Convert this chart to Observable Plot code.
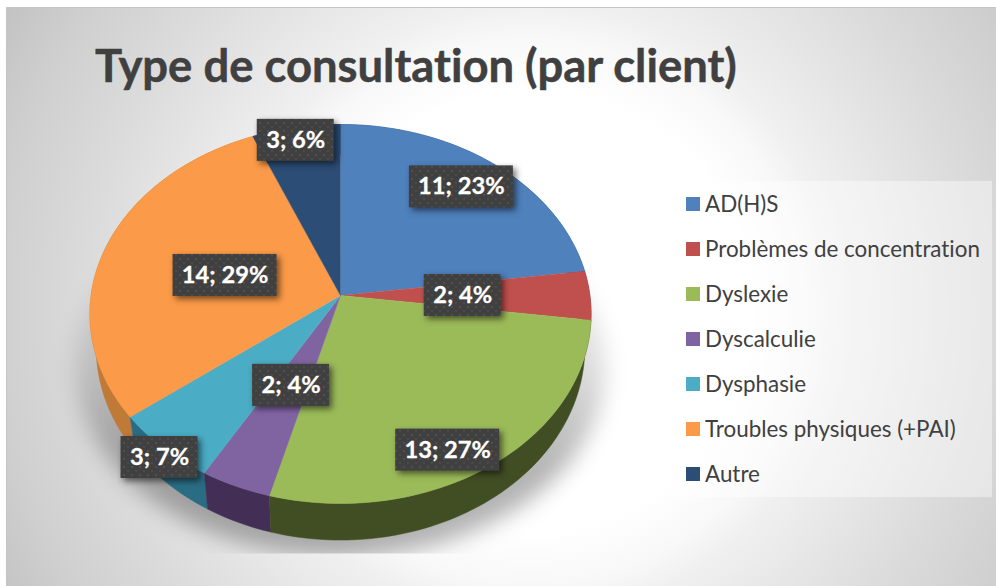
<!DOCTYPE html>
<html lang="fr">
<head>
<meta charset="utf-8">
<title>Type de consultation (par client)</title>
<script src="https://cdn.jsdelivr.net/npm/d3@7"></script>
<script src="https://cdn.jsdelivr.net/npm/@observablehq/plot@0.6"></script>
<style>
  html, body { margin: 0; padding: 0; background: #fff; }
  #chart { position: relative; width: 996px; height: 586px; overflow: hidden; font-family: Lato, sans-serif; font-variant-ligatures: none; }
  #card { position: absolute; left: 6px; top: 7px; right: 0; bottom: 0; box-sizing: border-box;
    border-top: 1px solid #c4c4c4; border-left: 1px solid #c4c4c4;
    background: radial-gradient(circle 610px at 524px 303px, #ffffff 0%, #ffffff 36%, #f8f8f8 45%, #f0f0f0 50%, #dcdcdc 72%, #cfcfcf 88%, #c2c2c2 100%); }
  #title { position: absolute; left: 95px; top: 35px; margin: 0; font-size: 45.4px; line-height: 60px; font-weight: 700; color: #404040; white-space: nowrap; -webkit-text-stroke: 0.5px #404040; }
  #legend { position: absolute; left: 673px; top: 181px; width: 319px; height: 316px; background: rgba(255,255,255,.42); }
  .row { position: absolute; left: 13px; height: 30px; display: flex; align-items: center; font-size: 22.4px; color: #404040; white-space: nowrap; }
  .swatch { width: 14px; height: 14px; margin-right: 5px; flex: none; }
  #chart svg { position: absolute; left: 0; top: 0; }
  #chart svg text { font-variant-ligatures: none; }
</style>
</head>
<body>
<div id="chart">
  <div id="card"></div>
  <h1 id="title">Type de consultation (par client)</h1>
  <div id="legend"></div>
</div>
<script>
const categories = ["AD(H)S", "Problèmes de concentration", "Dyslexie", "Dyscalculie", "Dysphasie", "Troubles physiques (+PAI)", "Autre"];
const counts = [11, 2, 13, 2, 3, 14, 3];
const percents = [23, 4, 27, 4, 7, 29, 6];
const topColors = ["#4f81bd", "#c0504d", "#9bbb59", "#8064a2", "#4bacc6", "#fb9a48", "#2c4d75"];
const sideColors = ["#2f4d71", "#733030", "#414e24", "#432f55", "#2a6c84", "#c07a38", "#1a2e46"];
const labelRadius = [0.80, 0.49, 0.86, 0.495, 1.04, 0.48, 0.92];
const labelTurn = [-1.3, 0, 6.2, 0, -1.2, -2, -1];

// Perspective of the tilted disc
const apex = [340, 295], radiusX = 249.4, radiusY = 187.7, tilt = 0.0976, depth = 33, narrowing = 0.975;
const project = (deg, r = 1) => {
  const a = deg * Math.PI / 180, X = Math.sin(a) * r, Y = -Math.cos(a) * r, s = 1 / (1 - tilt * Y);
  return {x: apex[0] + radiusX * X * s, y: apex[1] + radiusY * Y * s, s};
};
const lower = (p) => ({x: apex[0] + (p.x - apex[0]) * narrowing, y: p.y + depth * p.s});

const total = d3.sum(counts);
let running = 0;
const slices = categories.map((name, i) => {
  const start = running / total * 360;
  running += counts[i];
  const end = running / total * 360;
  const n = Math.max(2, Math.ceil((end - start) / 1.5));
  return {name, i, start, end, ring: d3.range(n + 1).map((k) => project(start + (end - start) * k / n))};
});

const topRows = slices.flatMap((s) => [{...project(0, 0), name: s.name, color: topColors[s.i]},
  ...s.ring.map((p) => ({...p, name: s.name, color: topColors[s.i]}))]);
const sideOrder = [0, 6, 5, 1, 4, 3, 2];
const sideRows = sideOrder.flatMap((i) => {
  const s = slices[i];
  return [...s.ring, ...s.ring.slice().reverse().map(lower)].map((p) => ({...p, name: s.name, color: sideColors[i]}));
});
const shadowRows = d3.range(0, 361, 2).map((deg) => {
  const p = project(deg);
  return {x: apex[0] + (p.x - apex[0]) * 1.055, y: p.y + depth + 20};
});

const labels = slices.map((s) => {
  const mid = (s.start + s.end) / 2 + labelTurn[s.i];
  const p = project(mid, labelRadius[s.i]);
  const text = `${counts[s.i]}; ${percents[s.i]}%`;
  const half = text.length > 5 ? 52 : 38.5;
  return {text, x: p.x, y: p.y, x1: p.x - half, x2: p.x + half, y1: p.y - 21, y2: p.y + 21};
});

const defs = () => {
  const d = d3.create("svg:defs");
  d.html(`<pattern id="labelDots" width="8" height="8" patternUnits="userSpaceOnUse" patternTransform="translate(2 1)">
      <rect width="8" height="8" fill="#404040"/><rect x="1" y="1" width="2" height="2" fill="#505050"/><rect x="5" y="5" width="2" height="2" fill="#4a4a4a"/>
    </pattern>
    <linearGradient id="shadowFade" gradientUnits="userSpaceOnUse" x1="0" y1="250" x2="0" y2="470">
      <stop offset="0" stop-color="#000" stop-opacity="0.04"/>
      <stop offset="0.55" stop-color="#000" stop-opacity="0.14"/>
      <stop offset="1" stop-color="#000" stop-opacity="0.3"/>
    </linearGradient>
    <clipPath id="shadowClip"><rect x="0" y="230" width="996" height="323"/></clipPath>`);
  return d.node();
};

const chart = Plot.plot({
  width: 996, height: 586, margin: 0,
  x: {domain: [0, 996], range: [0, 996], axis: null},
  y: {domain: [0, 586], range: [0, 586], axis: null},
  style: {background: "transparent", overflow: "visible"},
  marks: [
    defs,
    Plot.line(shadowRows, {
      x: "x", y: "y", fill: "url(#shadowFade)", stroke: "none", imageFilter: "blur(11px)",
      render(index, scales, values, dimensions, context, next) {
        const g = next(index, scales, values, dimensions, context);
        g.setAttribute("clip-path", "url(#shadowClip)");
        return g;
      }
    }),
    Plot.line(sideRows, {x: "x", y: "y", z: "name", fill: {value: "color", scale: null}, stroke: {value: "color", scale: null}, strokeWidth: 0.5}),
    Plot.line(topRows, {x: "x", y: "y", z: "name", fill: {value: "color", scale: null}, stroke: {value: "color", scale: null}, strokeWidth: 0.5}),
    Plot.rect(labels, {x1: "x1", x2: "x2", y1: "y1", y2: "y2", fill: "url(#labelDots)", imageFilter: "drop-shadow(3px 3px 3px rgba(0,0,0,.55))"}),
    Plot.text(labels, {x: "x", y: "y", text: "text", fill: "#fff", stroke: "#fff", strokeWidth: 0.3, fontSize: 23.7, fontWeight: 700, fontFamily: "Lato, sans-serif"})
  ]
});
document.getElementById("chart").appendChild(chart);

const legend = d3.select("#legend");
categories.forEach((name, i) => {
  const row = legend.append("div").attr("class", "row").style("top", `${7 + i * 45}px`);
  row.append("span").attr("class", "swatch").style("background", topColors[i]).style("margin-top", "1px");
  row.append("span").text(name);
});
</script>
</body>
</html>
